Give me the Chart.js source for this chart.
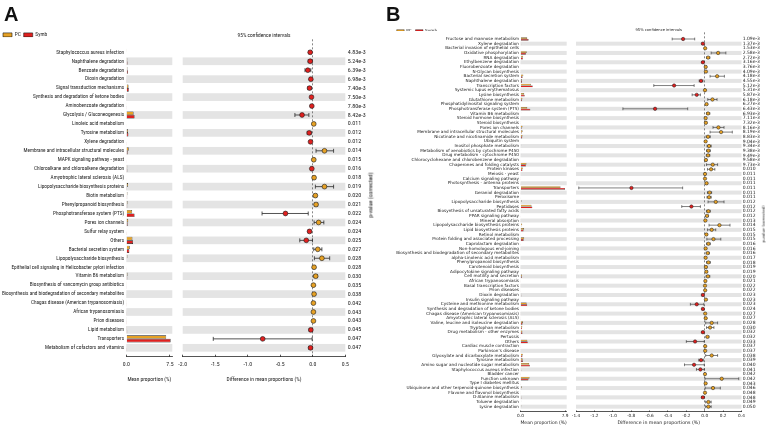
<!DOCTYPE html>
<html>
<head>
<meta charset="utf-8">
<title>Extended error bar plots A / B</title>
<script src="https://cdn.jsdelivr.net/npm/chart.js@4/dist/chart.umd.min.js"></script>
<style>
  html, body { margin:0; padding:0; background:#fff; }
  #page { position:relative; width:767px; height:427px; overflow:hidden; background:#fff; }
  #page canvas { position:absolute; left:0; top:0; }
  .lbl { position:absolute; white-space:nowrap; color:#111; }
  .panel { font-family:'Liberation Sans', Arial, sans-serif; font-weight:bold; font-size:20px; line-height:20px; }
</style>
</head>
<body>
<div id="page">
  <canvas id="aBar" width="767" height="427"></canvas>
  <canvas id="aDiff" width="767" height="427"></canvas>
  <canvas id="bBar" width="767" height="427"></canvas>
  <canvas id="bDiff" width="767" height="427"></canvas>
  <div class="lbl panel" style="left:4px;top:4.1px;">A</div>
  <div class="lbl panel" style="left:386px;top:4.1px;">B</div>
  <div class="lbl" id="pvTitleA" style="left:370px;top:195px;font-size:11px;line-height:11px;">p-value (corrected)</div>
  <div class="lbl" id="pvTitleB" style="left:764px;top:224px;font-family:'DejaVu Sans',sans-serif;font-size:11px;line-height:11px;transform:translate(-50%,-50%) rotate(-90deg) scale(0.35);">p-value (corrected)</div>
</div>
<script>
// ---------------- Panel A data ----------------
const catsA = [
  "Staphylococcus aureus infection","Naphthalene degradation","Benzoate degradation","Dioxin degradation",
  "Signal transduction mechanisms","Synthesis and degradation of ketone bodies","Aminobenzoate degradation",
  "Glycolysis / Gluconeogenesis","Linoleic acid metabolism","Tyrosine metabolism","Xylene degradation",
  "Membrane and intracellular structural molecules","MAPK signaling pathway - yeast",
  "Chloroalkane and chloroalkene degradation","Amyotrophic lateral sclerosis (ALS)",
  "Lipopolysaccharide biosynthesis proteins","Biotin metabolism","Phenylpropanoid biosynthesis",
  "Phosphotransferase system (PTS)","Pores ion channels","Sulfur relay system","Others",
  "Bacterial secretion system","Lipopolysaccharide biosynthesis",
  "Epithelial cell signaling in Helicobacter pylori infection","Vitamin B6 metabolism",
  "Biosynthesis of vancomycin group antibiotics","Biosynthesis and biodegradation of secondary metabolites",
  "Chagas disease (American trypanosomiasis)","African trypanosomiasis","Prion diseases","Lipid metabolism",
  "Transporters","Metabolism of cofactors and vitamins"];
const pcA   = [0.03,0.18,0.20,0.08,0.38,0.09,0.10,1.25,0.06,0.30,0.08,0.42,0.05,0.17,0.06,0.30,0.20,0.22,1.00,0.33,0.08,1.05,0.60,0.20,0.05,0.22,0.03,0.06,0.03,0.04,0.02,0.13,6.85,0.09];
const symbA = [0.07,0.22,0.28,0.11,0.43,0.11,0.115,1.42,0.045,0.355,0.115,0.24,0.035,0.185,0.04,0.12,0.16,0.17,1.42,0.24,0.13,1.15,0.52,0.06,0.03,0.175,0.02,0.04,0.02,0.03,0.01,0.16,7.62,0.125];
const diffA = [-0.04,-0.04,-0.076,-0.03,-0.05,-0.02,-0.015,-0.165,0.015,-0.055,-0.035,0.18,0.015,-0.015,0.02,0.18,0.04,0.05,-0.42,0.09,-0.05,-0.10,0.077,0.14,0.02,0.045,0.01,0.02,0.01,0.01,0.01,-0.03,-0.77,-0.035];
const loA   = [-0.06,-0.07,-0.12,-0.045,-0.075,-0.03,-0.025,-0.275,0.005,-0.085,-0.05,0.05,0.005,-0.025,0.008,0.04,0.02,0.025,-0.78,0.02,-0.07,-0.20,0.015,0.025,0.01,0.02,0.004,0.008,0.003,0.003,0.003,-0.055,-1.53,-0.06];
const hiA   = [-0.02,-0.01,-0.03,-0.015,-0.025,-0.01,-0.005,-0.06,0.025,-0.025,-0.02,0.32,0.025,-0.005,0.032,0.32,0.06,0.075,-0.07,0.17,-0.03,-0.005,0.14,0.26,0.03,0.07,0.016,0.032,0.017,0.017,0.017,-0.005,-0.01,-0.01];
const pA    = ["4.83e-3","5.24e-3","6.39e-3","6.98e-3","7.40e-3","7.50e-3","7.80e-3","8.42e-3","0.011","0.012","0.012","0.014","0.015","0.016","0.018","0.019","0.020","0.021","0.022","0.024","0.024","0.025","0.027","0.028","0.028","0.030","0.035","0.038","0.042","0.043","0.043","0.045","0.047","0.047"];
const propTicksA = [0, 7.5];
const diffTicksA = [-2.0, -1.5, -1.0, -0.5, 0.0, 0.5];

// ---------------- Panel B data ----------------
const catsB = [
  "Fructose and mannose metabolism","Xylene degradation","Bacterial invasion of epithelial cells","Oxidative phosphorylation",
  "RNA degradation","Ethylbenzene degradation","Fluorobenzoate degradation","N-Glycan biosynthesis",
  "Bacterial secretion system","Naphthalene degradation","Transcription factors","Systemic lupus erythematosus",
  "Lysine biosynthesis","Glutathione metabolism","Phosphatidylinositol signaling system","Phosphotransferase system (PTS)",
  "Vitamin B6 metabolism","Steroid hormone biosynthesis","Steroid biosynthesis","Pores ion channels",
  "Membrane and intracellular structural molecules","Nicotinate and nicotinamide metabolism","Ubiquitin system","Inositol phosphate metabolism",
  "Metabolism of xenobiotics by cytochrome P450","Drug metabolism - cytochrome P450","Chlorocyclohexane and chlorobenzene degradation","Chaperones and folding catalysts",
  "Protein kinases","Meiosis - yeast","Calcium signaling pathway","Photosynthesis - antenna proteins",
  "Transporters","Geraniol degradation","Peroxisome","Lipopolysaccharide biosynthesis",
  "Peptidases","Biosynthesis of unsaturated fatty acids","PPAR signaling pathway","Mineral absorption",
  "Lipopolysaccharide biosynthesis proteins","Lipid biosynthesis proteins","Retinol metabolism","Protein folding and associated processing",
  "Caprolactam degradation","Non-homologous end-joining","Biosynthesis and biodegradation of secondary metabolites","alpha-Linolenic acid metabolism",
  "Phenylpropanoid biosynthesis","Carotenoid biosynthesis","Adipocytokine signaling pathway","Cell motility and secretion",
  "African trypanosomiasis","Basal transcription factors","Prion diseases","Dioxin degradation",
  "Insulin signaling pathway","Cysteine and methionine metabolism","Synthesis and degradation of ketone bodies","Chagas disease (American trypanosomiasis)",
  "Amyotrophic lateral sclerosis (ALS)","Valine, leucine and isoleucine degradation","Tryptophan metabolism","Drug metabolism - other enzymes",
  "Pertussis","Others","Cardiac muscle contraction","Parkinson's disease",
  "Glyoxylate and dicarboxylate metabolism","Tyrosine metabolism","Amino sugar and nucleotide sugar metabolism","Staphylococcus aureus infection",
  "Bladder cancer","Function unknown","Type I diabetes mellitus","Ubiquinone and other terpenoid-quinone biosynthesis",
  "Flavone and flavonol biosynthesis","D-Alanine metabolism","Toluene degradation","Lysine degradation"];
const pcB = [1.20,0.10,0.05,1.10,0.47,0.07,0.05,0.03,0.50,0.22, 1.85,0.03,0.66,0.33,0.06,1.20,0.12,0.03,0.03,0.35,
  0.38,0.35,0.05,0.12,0.11,0.11,0.05,1.05,0.42,0.05, 0.03,0.05,7.10,0.08,0.08,0.18,1.95,0.12,0.05,0.03,
  0.30,0.62,0.05,0.65,0.06,0.03,0.10,0.05,0.10,0.05, 0.10,0.27,0.03,0.03,0.03,0.13,0.05,1.10,0.09,0.03,
  0.03,0.44,0.32,0.33,0.05,1.20,0.03,0.03,0.42,0.38, 1.55,0.10,0.02,1.60,0.03,0.22,0.03,0.14,0.12,0.15];
const symbB = [1.44,0.12,0.045,0.95,0.43,0.09,0.04,0.017,0.37,0.26, 2.18,0.027,0.75,0.25,0.04,1.74,0.084,0.02,0.017,0.20,
  0.20,0.31,0.04,0.073,0.07,0.074,0.037,0.96,0.35,0.047, 0.027,0.03,7.90,0.027,0.033,0.06,2.10,0.08,0.025,0.023,
  0.14,0.544,0.032,0.555,0.02,0.02,0.067,0.04,0.06,0.037, 0.082,0.235,0.023,0.027,0.025,0.15,0.037,1.187,0.11,0.025,
  0.019,0.364,0.262,0.35,0.02,1.305,0.025,0.025,0.344,0.42, 1.666,0.147,0.017,1.415,0.02,0.13,0.027,0.16,0.08,0.11];
const diffB = [-0.235,-0.02,0.005,0.146,0.037,-0.02,0.011,0.013,0.135,-0.04, -0.333,0.003,-0.087,0.084,0.02,-0.54,0.036,0.01,0.013,0.149,
  0.178,0.036,0.01,0.047,0.04,0.036,0.013,0.087,0.069,0.003, 0.003,0.02,-0.797,0.053,0.047,0.12,-0.145,0.04,0.025,0.007,
  0.16,0.076,0.018,0.095,0.04,0.01,0.033,0.01,0.04,0.013, 0.018,0.035,0.007,0.003,0.005,-0.02,0.013,-0.087,-0.02,0.005,
  0.011,0.076,0.058,-0.02,0.03,-0.105,0.005,0.005,0.076,-0.04, -0.116,-0.047,0.003,0.185,0.01,0.09,0.003,-0.02,0.04,0.04];
const loB = [-0.354,-0.03,0.001,0.07,0.02,-0.03,0.005,0.006,0.058,-0.06, -0.554,0.001,-0.137,0.033,0.01,-0.89,0.02,0.004,0.005,0.09,
  0.058,0.015,0.004,0.025,0.02,0.018,0.005,0.02,0.03,0.001, 0.001,0.01,-1.37,0.03,0.025,0.036,-0.25,0.02,0.012,0.002,
  0.047,0.03,0.008,0.023,0.02,0.004,0.015,0.004,0.02,0.005, 0.008,0.015,0.002,0.001,0.002,-0.03,0.005,-0.156,-0.03,0.002,
  0.004,0.01,0.02,-0.03,0.015,-0.2,0.002,0.002,0.01,-0.065, -0.22,-0.09,0.001,0.003,0.004,0.006,0.001,-0.035,0.01,0.01];
const hiB = [-0.109,-0.01,0.009,0.23,0.055,-0.01,0.017,0.02,0.214,-0.02, -0.115,0.005,-0.047,0.134,0.03,-0.185,0.055,0.016,0.02,0.21,
  0.3,0.06,0.016,0.07,0.06,0.055,0.021,0.14,0.11,0.006, 0.006,0.03,-0.24,0.075,0.07,0.21,-0.047,0.06,0.038,0.012,
  0.275,0.12,0.028,0.175,0.06,0.016,0.05,0.016,0.06,0.021, 0.03,0.055,0.012,0.006,0.008,-0.01,0.021,-0.01,-0.01,0.008,
  0.018,0.14,0.1,-0.01,0.045,-0.005,0.008,0.008,0.14,-0.015, -0.005,-0.005,0.005,0.37,0.016,0.17,0.006,-0.005,0.07,0.07];
const pB = ["1.09e-3","1.37e-3","1.53e-3","2.58e-3","2.72e-3","3.16e-3","3.76e-3","4.09e-3","4.18e-3","4.55e-3",
  "5.12e-3","5.31e-3","5.87e-3","6.18e-3","6.27e-3","6.43e-3","6.93e-3","7.11e-3","7.32e-3","8.16e-3",
  "8.19e-3","8.83e-3","9.04e-3","9.34e-3","9.38e-3","9.49e-3","9.58e-3","9.73e-3","0.010","0.011",
  "0.011","0.011","0.011","0.011","0.011","0.012","0.012","0.012","0.012","0.013",
  "0.014","0.015","0.015","0.015","0.016","0.016","0.016","0.017","0.018","0.019",
  "0.019","0.020","0.021","0.022","0.022","0.023","0.023","0.023","0.024","0.027",
  "0.027","0.028","0.030","0.032","0.032","0.033","0.037","0.037","0.038","0.039",
  "0.040","0.041","0.042","0.042","0.043","0.046","0.048","0.048","0.049","0.050"];
const propTicksB = [0, 7.9];
const diffTicksB = [-1.4, -1.2, -1.0, -0.8, -0.6, -0.4, -0.2, 0.0, 0.2, 0.4];

// ---------------- styling ----------------
const PC_COLOR = '#E6A125', SYMB_COLOR = '#E0201F', INK = '#1a1a1a', AXIS = '#2a2a2a', BAND = '#E4E4E4';

// font detection / sizing so that text widths match the reference
const mctx = document.createElement('canvas').getContext('2d');
function textW(str, size, fam) { mctx.font = size + 'px ' + fam; return mctx.measureText(str).width; }
function hasFont(name) {
  const s = 'abcdefghijklmnopqrstuvwxyz ABCDEFGHIJ 0123456789';
  return textW(s, 40, "'" + name + "', monospace") !== textW(s, 40, 'monospace') ||
         textW(s, 40, "'" + name + "', serif") !== textW(s, 40, 'serif');
}
const narrowName = ['Liberation Sans Narrow', 'Arial Narrow', 'Roboto Condensed', 'DejaVu Sans Condensed', 'Liberation Sans']
  .find(hasFont) || 'Liberation Sans';
const NARROW = "'" + narrowName + "', sans-serif";
const DEJAVU = "'DejaVu Sans', Verdana, sans-serif";
function fit(str, target, fam) { return 20 * target / textW(str, 20, fam); }

const szA = {
  label: Math.min(fit('Staphylococcus aureus infection', 68, NARROW), fit('Epithelial cell signaling in Helicobacter pylori infection', 121, NARROW)),
  pv: fit('4.83e-3', 18, NARROW),
  tick: fit('-1.5', 8.7, NARROW),
  title: fit('Difference in mean proportions (%)', 75, NARROW),
  ci: fit('95% confidence intervals', 53, NARROW),
  legend: fit('Symb', 11.7, NARROW)
};
const szB = {
  label: fit('Biosynthesis and biodegradation of secondary metabolites', 123, DEJAVU),
  pv: fit('1.09e-3', 17.3, DEJAVU),
  tick: fit('-1.2', 8.3, DEJAVU),
  title: fit('Difference in mean proportions (%)', 83, DEJAVU),
  ci: fit('95% confidence intervals', 46.7, DEJAVU),
  legend: fit('Symb', 12, DEJAVU)
};
const pvA = document.getElementById('pvTitleA');
pvA.style.fontFamily = NARROW;
pvA.style.transform = 'translate(-50%,-50%) rotate(-90deg) scale(' + (szA.pv / 11).toFixed(3) + ')';

const bandsPlugin = {
  id: 'bands',
  beforeDraw(chart, args, opts) {
    const {ctx, chartArea: ca, scales} = chart;
    const y = scales.y;
    ctx.save();
    ctx.fillStyle = opts.color;
    for (let i = 1; i < opts.count; i += 2) {
      const a = y.getPixelForValue(i - opts.frac / 2);
      const b = y.getPixelForValue(i + opts.frac / 2);
      ctx.fillRect(ca.left, Math.min(a, b), ca.right - ca.left, Math.abs(b - a));
    }
    ctx.restore();
  }
};

function buildBar(id, p) {
  const rows = p.cats.length;
  return new Chart(document.getElementById(id), {
    type: 'bar',
    data: {
      datasets: [
        { label: 'PC', data: p.pc.map((v, i) => ({x: v, y: i})), backgroundColor: PC_COLOR, borderColor: INK,
          borderWidth: p.bw, categoryPercentage: p.catPct, barPercentage: 1 },
        { label: 'Symb', data: p.symb.map((v, i) => ({x: v, y: i})), backgroundColor: SYMB_COLOR, borderColor: INK,
          borderWidth: p.bw, categoryPercentage: p.catPct, barPercentage: 1 }
      ]
    },
    options: {
      indexAxis: 'y', responsive: false, animation: false, events: [],
      layout: { padding: p.padding },
      plugins: {
        legend: { display: true, position: 'top', align: 'start', maxHeight: p.legendMaxH,
          labels: { boxWidth: p.boxW, boxHeight: p.boxH, padding: p.legendPad, color: INK,
                    font: { family: p.family, size: p.sz.legend } } },
        tooltip: { enabled: false },
        bands: { count: rows, frac: 0.86, color: BAND }
      },
      scales: {
        x: { type: 'linear', position: 'bottom', min: 0, max: p.xMax, offset: false,
          afterBuildTicks: ax => { ax.ticks = p.xTicks.map(v => ({value: v})); },
          afterFit: ax => { ax.height = p.xHeight; },
          ticks: { callback: v => Number(v).toFixed(1), color: INK, font: { family: p.family, size: p.sz.tick },
                   padding: p.tickPad, maxRotation: 0, autoSkip: false },
          grid: { drawOnChartArea: false, color: AXIS, tickLength: p.tickLen, lineWidth: 0.8, offset: false },
          border: { color: AXIS, width: 0.8 },
          title: { display: true, text: 'Mean proportion (%)', color: INK, font: { family: p.family, size: p.sz.title }, padding: 0 } },
        y: { type: 'linear', position: 'left', reverse: true, min: -1, max: rows, offset: false,
          afterBuildTicks: ax => { ax.ticks = p.cats.map((_, i) => ({value: i})); },
          afterFit: ax => { ax.width = p.yWidth; },
          ticks: { callback: v => (p.cats[v] !== undefined ? p.cats[v] : ''), color: INK,
                   font: { family: p.family, size: p.sz.label }, padding: p.labelPad, autoSkip: false },
          grid: { display: false, drawTicks: false, offset: false },
          border: { display: false } }
      }
    },
    plugins: [bandsPlugin]
  });
}

function buildDiff(id, p) {
  const rows = p.diff.length;
  const ci = [];
  for (let i = 0; i < rows; i++) {
    ci.push({x: p.lo[i], y: i}, {x: p.hi[i], y: i}, {x: null, y: null});
  }
  return new Chart(document.getElementById(id), {
    type: 'scatter',
    data: {
      datasets: [
        { label: '95% CI', data: ci, showLine: true, spanGaps: false, borderColor: AXIS, borderWidth: p.ciW,
          pointStyle: 'line', pointRotation: 90, pointRadius: p.capR, pointBorderColor: AXIS,
          pointBorderWidth: p.ciW, pointBackgroundColor: AXIS, order: 2 },
        { label: 'Difference', data: p.diff.map((d, i) => ({x: d, y: i})), pointRadius: p.ptR,
          pointBackgroundColor: p.diff.map(d => d > 0 ? PC_COLOR : SYMB_COLOR), pointBorderColor: INK,
          pointBorderWidth: p.ptBW, order: 1 }
      ]
    },
    options: {
      responsive: false, animation: false, events: [],
      layout: { padding: p.padding },
      plugins: {
        legend: { display: false },
        tooltip: { enabled: false },
        title: { display: true, text: '95% confidence intervals', fullSize: false, color: INK,
                 font: { family: p.family, size: p.sz.ci, weight: 'normal' }, padding: 0 },
        bands: { count: rows, frac: 0.86, color: BAND }
      },
      scales: {
        x: { type: 'linear', position: 'bottom', min: p.xMin, max: p.xMax, offset: false,
          afterBuildTicks: ax => { ax.ticks = p.xTicks.map(v => ({value: v})); },
          afterFit: ax => { ax.height = p.xHeight; },
          ticks: { callback: v => Number(v).toFixed(1), color: INK, font: { family: p.family, size: p.sz.tick },
                   padding: p.tickPad, maxRotation: 0, autoSkip: false },
          grid: { drawOnChartArea: true,
                  color: c => (c.tick && Math.abs(c.tick.value) < 1e-9) ? '#555' : 'rgba(0,0,0,0)',
                  tickColor: AXIS, lineWidth: 0.7, tickWidth: 0.8, tickLength: p.tickLen },
          border: { color: AXIS, width: 0.8, dash: [2, 2] },
          title: { display: true, text: 'Difference in mean proportions (%)', color: INK,
                   font: { family: p.family, size: p.sz.title }, padding: 0 } },
        y: { type: 'linear', position: 'right', reverse: true, min: -1, max: rows, offset: false,
          afterBuildTicks: ax => { ax.ticks = p.pv.map((_, i) => ({value: i})); },
          afterFit: ax => { ax.width = p.yWidth; },
          ticks: { callback: v => (p.pv[v] !== undefined ? p.pv[v] : ''), color: INK,
                   font: { family: p.family, size: p.sz.pv }, padding: p.pvPad, autoSkip: false },
          grid: { display: false, drawTicks: false },
          border: { display: false } }
      }
    },
    plugins: [bandsPlugin]
  });
}

// align the row values with the panel rows (first row centre y0, row pitch h)
function fitRows(chart, y0, h) {
  const ca = chart.chartArea;
  chart.options.scales.y.min = (ca.top - y0) / h;
  chart.options.scales.y.max = (ca.bottom - y0) / h;
  chart.update('none');
}

// negative tick lengths put the tick marks inside the plot, as in the reference
const aBar = buildBar('aBar', {
  cats: catsA, pc: pcA, symb: symbA, xMax: 7.9, xTicks: propTicksA, sz: szA,
  padding: {left: 0, right: 594.7, top: 29.2, bottom: 43.7},
  yWidth: 126.3, xHeight: 26.6, legendMaxH: 8, boxW: 9, boxH: 4, legendPad: 3,
  family: NARROW, tickPad: 6.3, tickLen: -2, labelPad: 2.2, catPct: 0.8, bw: 0.6
});
const aDiff = buildDiff('aDiff', {
  diff: diffA, lo: loA, hi: hiA, pv: pA, xMin: -2.0, xMax: 0.5, xTicks: diffTicksA, sz: szA,
  padding: {left: 182.7, right: 399.7, top: 32.8, bottom: 43.7},
  yWidth: 22, xHeight: 26.6, family: NARROW, tickPad: 6.3, tickLen: -2,
  pvPad: 2.4, ptR: 2.4, ptBW: 0.6, capR: 2, ciW: 0.8
});
const bBar = buildBar('bBar', {
  cats: catsB, pc: pcB, symb: symbB, xMax: 8.2, xTicks: propTicksB, sz: szB,
  padding: {left: 393, right: 200.3, top: 25.1, bottom: 1.1},
  yWidth: 127.5, xHeight: 14.2, legendMaxH: 6, boxW: 7.5, boxH: 2.5, legendPad: 3.7,
  family: DEJAVU, tickPad: 2.4, tickLen: -1.2, labelPad: 1.5, catPct: 0.76, bw: 0.4
});
const bDiff = buildDiff('bDiff', {
  diff: diffB, lo: loB, hi: hiB, pv: pB, xMin: -1.4, xMax: 0.4, xTicks: diffTicksB, sz: szB,
  padding: {left: 576, right: 5.5, top: 27.9, bottom: 1.1},
  yWidth: 20, xHeight: 14.2, family: DEJAVU, tickPad: 2.4, tickLen: -1.2,
  pvPad: 1.2, ptR: 1.7, ptBW: 0.5, capR: 1.4, ciW: 0.6
});

fitRows(aBar, 52.3, 8.955);
fitRows(aDiff, 52.3, 8.955);
fitRows(bBar, 39.0, 4.654);
fitRows(bDiff, 39.0, 4.654);
</script>
</body>
</html>
